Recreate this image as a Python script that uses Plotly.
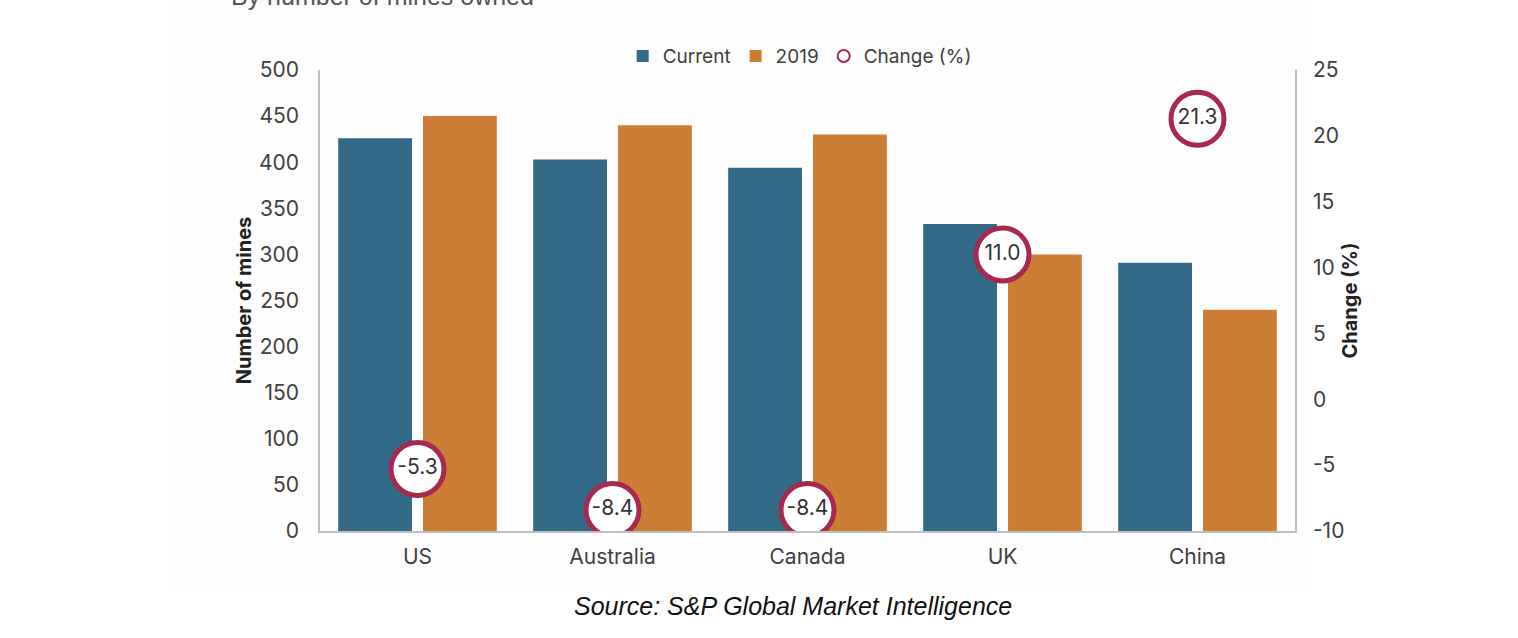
import plotly.graph_objects as go

countries = ["US", "Australia", "Canada", "UK", "China"]
current = [426, 403, 394, 333, 291]
y2019 = [450, 440, 430, 300, 240]
change = [-5.3, -8.4, -8.4, 11.0, 21.3]
change_labels = ["-5.3", "-8.4", "-8.4", "11.0", "21.3"]
right_tick_vals = [-10, -5, 0, 5, 10, 15, 20, 25]
right_tick_text = ["-10", "-5", "0", "5", "10", "15", "20", "25"]

FONT = "Inter"
TXT = "#404040"
fig = go.Figure()
fig.add_trace(go.Bar(x=countries, y=current, name="Current", marker=dict(color="#336A87", line=dict(width=0))))
fig.add_trace(go.Bar(x=countries, y=y2019, name="2019", marker=dict(color="#CC7E37", line=dict(width=0))))
fig.add_trace(go.Scatter(
    x=countries, y=change, name="Change (%)", yaxis="y2", mode="markers+text",
    text=change_labels, textposition="middle center",
    textfont=dict(size=21, color="#333333", family=FONT),
    marker=dict(symbol="circle", size=53, color="white", line=dict(color="#A8294F", width=5)),
))

fig.update_layout(
    width=1518, height=638,
    margin=dict(l=320, r=223, t=70, b=107),
    paper_bgcolor="white", plot_bgcolor="white",
    font=dict(family=FONT, size=21, color=TXT),
    barmode="group", bargap=0.13, bargroupgap=0.13,
    showlegend=True,
    legend=dict(orientation="h", x=0.492, xanchor="center", y=1.03, yanchor="middle",
                font=dict(size=19, color=TXT), itemsizing="constant",
                itemwidth=30, tracegroupgap=0, bgcolor="rgba(0,0,0,0)"),
    xaxis=dict(showline=True, linecolor="#BFBFBF", linewidth=1.5, ticks="", showgrid=False,
               ticklabelstandoff=6, tickfont=dict(size=21, color=TXT)),
    yaxis=dict(range=[0, 500], dtick=50, showline=True, linecolor="#BFBFBF", linewidth=1.5,
               showgrid=False, zeroline=False, ticks="", ticklabelstandoff=15,
               tickfont=dict(size=21, color=TXT),
               title=dict(text="<b>Number of mines</b>", font=dict(size=20, color="#222222"), standoff=2)),
    yaxis2=dict(range=[-10, 25], tickvals=right_tick_vals, ticktext=right_tick_text,
                overlaying="y", side="right", showline=True,
                linecolor="#BFBFBF", linewidth=1.5, showgrid=False, zeroline=False, ticks="",
                ticklabelstandoff=12, tickfont=dict(size=21, color=TXT),
                title=dict(text="<b>Change (%)</b>", font=dict(size=20, color="#222222"), standoff=0)),
    shapes=[dict(type="rect", xref="paper", yref="paper", x0=-0.155, x1=1.015, y0=-0.12, y1=1.2,
                 fillcolor="#FDFDFD", line=dict(width=0), layer="below")],
    annotations=[
        dict(text="By number of mines owned", xref="paper", yref="paper", x=-0.093, y=1.161,
             xanchor="left", yanchor="middle", showarrow=False,
             font=dict(size=25, color="#555555", family="Liberation Sans")),
        dict(text="<i>Source: S&P Global Market Intelligence</i>", xref="paper", yref="paper",
             x=0.485, y=-0.163, xanchor="center", yanchor="middle", showarrow=False,
             font=dict(size=25, color="#111111", family="Liberation Sans")),
    ],
)

fig.write_html("out.html", config={"displayModeBar": False},
               post_script="document.body.style.margin='0';document.body.style.overflow='hidden';")
